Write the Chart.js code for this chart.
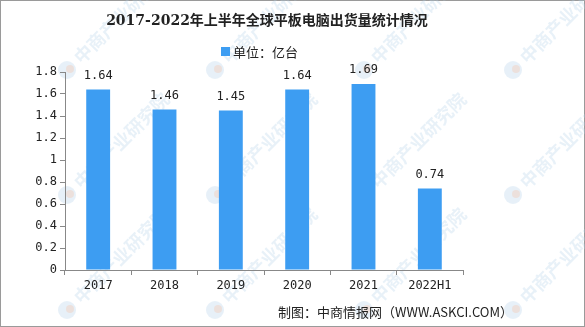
<!DOCTYPE html>
<html>
<head>
<meta charset="utf-8">
<script src="https://cdn.jsdelivr.net/npm/chart.js@4"></script>
<style>
    html, body { margin: 0; padding: 0; background: #fff; }
    #wrap { position: relative; width: 585px; height: 327px; box-sizing: border-box; border: 1px solid #9a9a9a; }
    #chart { position: absolute; left: -1px; top: -1px; }
</style>
</head>
<body>
<div id="wrap"><canvas id="chart" width="585" height="327"></canvas></div>
<script>
const categories = ['2017', '2018', '2019', '2020', '2021', '2022H1'];
const shipments = [1.64, 1.46, 1.45, 1.64, 1.69, 0.74];
const yTicks = [0, 0.2, 0.4, 0.6, 0.8, 1, 1.2, 1.4, 1.6, 1.8];

const titleText = '2017-2022年上半年全球平板电脑出货量统计情况';
const legendText = '单位：亿台';
const sourceText = '制图：中商情报网（WWW.ASKCI.COM）';
const barColor = '#3d9df2';
const cjk = '"Noto Sans CJK SC", "DejaVu Sans", sans-serif';

// faint diagonal watermark, title, legend and source line
const decorations = {
    id: 'decorations',
    beforeDraw(chart) {
        const ctx = chart.ctx;
        ctx.save();
        const rows = [70, 195, 310];
        const cols = [67, 215, 364, 513];
        rows.forEach(y => {
            cols.forEach(x => {
                ctx.save();
                ctx.translate(x, y);
                ctx.beginPath();
                ctx.arc(0, 0, 9, 0, Math.PI * 2);
                ctx.fillStyle = 'rgba(185, 212, 235, 0.35)';
                ctx.fill();
                ctx.beginPath();
                ctx.arc(3, -1, 4, 0, Math.PI * 2);
                ctx.fillStyle = 'rgba(245, 195, 170, 0.35)';
                ctx.fill();
                ctx.rotate(-Math.PI / 4);
                ctx.font = 'bold 18px ' + cjk;
                ctx.fillStyle = 'rgba(180, 208, 233, 0.3)';
                ctx.textBaseline = 'middle';
                ctx.fillText('中商产业研究院', 14, 0);
                ctx.restore();
            });
        });
        ctx.restore();
    },
    afterDraw(chart) {
        const ctx = chart.ctx;
        ctx.save();
        ctx.fillStyle = '#222';
        ctx.textBaseline = 'middle';
        ctx.textAlign = 'center';
        ctx.font = 'bold 14px "DejaVu Serif", ' + cjk;
        ctx.fillText(titleText, 267, 21);

        ctx.font = '13px ' + cjk;
        ctx.textAlign = 'left';
        ctx.fillStyle = barColor;
        ctx.fillRect(221, 47, 9, 9);
        ctx.fillStyle = '#222';
        ctx.fillText(legendText, 233, 52);

        ctx.textAlign = 'right';
        ctx.font = '13px ' + cjk;
        ctx.fillText(sourceText, 513, 312);

        // value labels above bars
        const meta = chart.getDatasetMeta(0);
        ctx.textAlign = 'center';
        ctx.font = '12px "DejaVu Sans Mono", monospace';
        meta.data.forEach((bar, i) => {
            ctx.fillText(shipments[i].toFixed(2), bar.x, bar.y - 14);
        });
        ctx.restore();
    }
};

new Chart(document.getElementById('chart'), {
    type: 'bar',
    data: {
        labels: categories,
        datasets: [{
            label: legendText,
            data: shipments,
            backgroundColor: barColor,
            barPercentage: 0.36,
            categoryPercentage: 1
        }]
    },
    options: {
        responsive: false,
        animation: false,
        layout: { padding: { left: 0, right: 122, top: 72, bottom: 0 } },
        plugins: {
            legend: { display: false },
            title: { display: false },
            tooltip: { enabled: false }
        },
        scales: {
            x: {
                afterFit(scale) { scale.height = 57; },
                grid: { offset: true, drawOnChartArea: false, tickLength: 5, color: '#888' },
                border: { color: '#888' },
                ticks: { color: '#222', font: { size: 12, family: '"DejaVu Sans Mono", monospace' }, padding: 4 }
            },
            y: {
                min: 0,
                max: 1.8,
                afterBuildTicks(scale) { scale.ticks = yTicks.map(v => ({ value: v })); },
                afterFit(scale) { scale.width = 65; },
                grid: { drawOnChartArea: false, tickLength: 5, color: '#888' },
                border: { color: '#888' },
                ticks: {
                    color: '#222',
                    padding: 3,
                    font: { size: 12, family: '"DejaVu Sans Mono", monospace' },
                    callback: v => String(v)
                }
            }
        }
    },
    plugins: [decorations]
});
</script>
</body>
</html>
